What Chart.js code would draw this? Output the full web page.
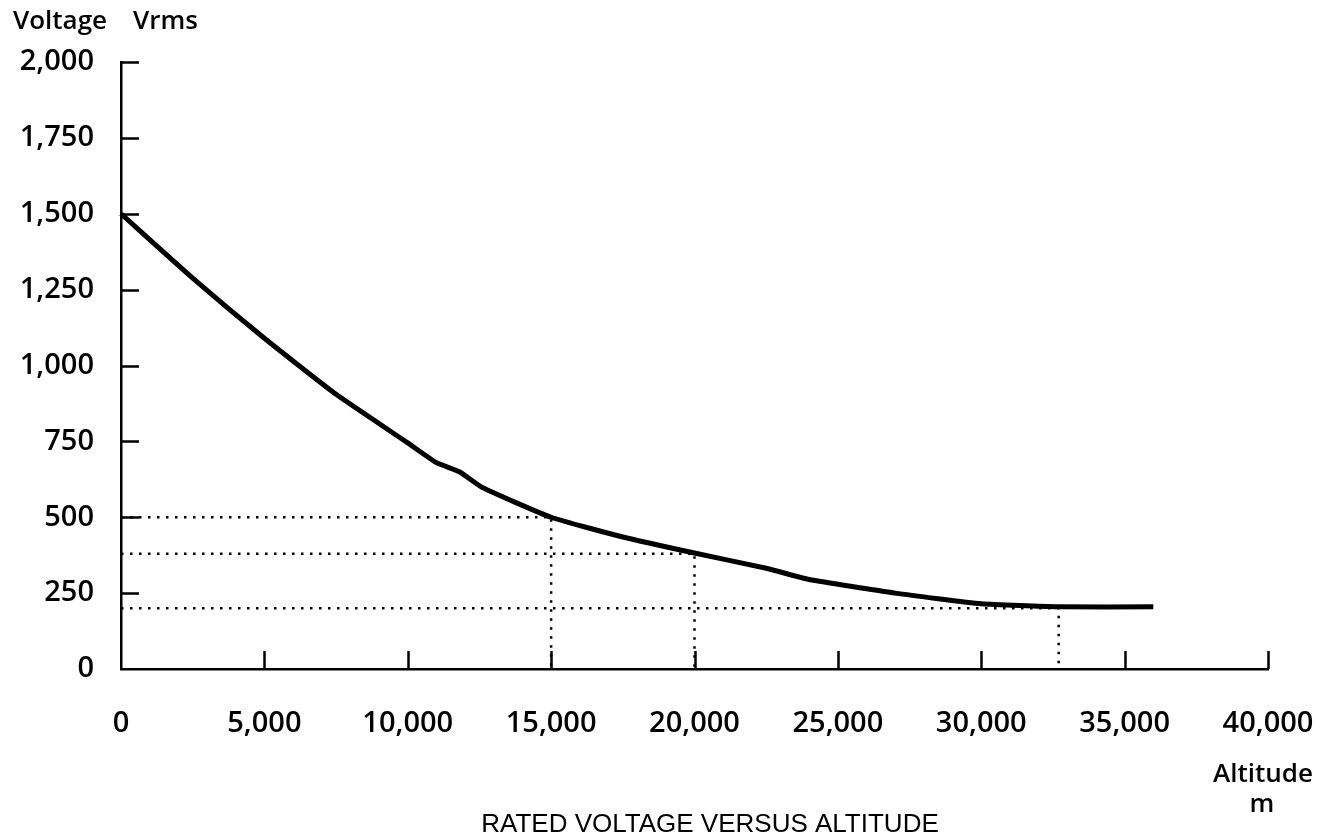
<!DOCTYPE html>
<html>
<head>
<meta charset="utf-8">
<title>Rated voltage versus altitude</title>
<script src="https://cdn.jsdelivr.net/npm/chart.js"></script>
<style>
  html, body { margin: 0; padding: 0; background: #fff; }
  #wrap { width: 1333px; height: 836px; position: relative; }
</style>
</head>
<body>
<div id="wrap"><canvas id="voltChart"></canvas></div>
<script>
// --- data ---
const altitude = [0, 2500, 5000, 7500, 10000, 11000, 11800, 12600, 15000, 17500, 20000, 22500, 24000, 27000, 30000, 32700, 36000];
const voltage  = [1500, 1288, 1090, 905, 745, 680, 650, 598, 500, 435, 382, 332, 295, 250, 215, 205, 205];

// dotted reading lines: voltage level -> altitude where it meets the curve
const refVolts = [500, 380, 200];
const refAlts  = [15000, 20000, 32700];

const xTicks = [0, 5000, 10000, 15000, 20000, 25000, 30000, 35000, 40000];
const yTicks = [0, 250, 500, 750, 1000, 1250, 1500, 1750, 2000];

const INK = '#000000';
const LABEL_FONT = 'Open Sans';
const fmt = v => Number(v).toLocaleString('en-US');

const curve = altitude.map((a, i) => ({ x: a, y: voltage[i] }));

const refSets = refVolts.map((v, i) => ({
    label: 'ref' + v,
    data: [{ x: 0, y: v }, { x: refAlts[i], y: v }, { x: refAlts[i], y: 0 }],
    borderColor: INK,
    borderWidth: 2.5,
    borderDash: [2.5, 6.5],
    borderCapStyle: 'butt',
    pointRadius: 0,
    showLine: true,
    fill: false,
    tension: 0
}));

// tick marks pointing into the plot, as in the drawing
const innerTicks = {
    id: 'innerTicks',
    afterDraw(chart) {
        const { ctx, chartArea, scales } = chart;
        const len = 18;
        ctx.save();
        ctx.strokeStyle = INK;
        ctx.lineWidth = 2.5;
        ctx.beginPath();
        yTicks.forEach(v => {
            if (v === 0) return;
            const y = Math.round(scales.y.getPixelForValue(v)) + 0.5;
            ctx.moveTo(chartArea.left, y);
            ctx.lineTo(chartArea.left + len, y);
        });
        xTicks.forEach(v => {
            if (v === 0) return;
            const x = Math.round(scales.x.getPixelForValue(v)) + 0.5;
            ctx.moveTo(x, chartArea.bottom);
            ctx.lineTo(x, chartArea.bottom - len);
        });
        ctx.stroke();
        ctx.restore();
    }
};

// axis captions and figure title
const captions = {
    id: 'captions',
    afterDraw(chart) {
        const { ctx } = chart;
        ctx.save();
        ctx.fillStyle = INK;
        ctx.textBaseline = 'alphabetic';
        ctx.font = '600 26px "' + LABEL_FONT + '"';
        ctx.textAlign = 'left';
        ctx.fillText('Voltage', 13, 29);
        ctx.fillText('Vrms', 133, 29);
        ctx.textAlign = 'center';
        ctx.fillText('Altitude', 1263, 782);
        ctx.fillText('m', 1262, 812);
        ctx.font = '26px "Liberation Sans"';
        ctx.fillText('RATED VOLTAGE VERSUS ALTITUDE', 710, 832);
        ctx.restore();
    }
};

new Chart(document.getElementById('voltChart').getContext('2d'), {
    type: 'scatter',
    data: {
        datasets: [{
            label: 'Rated voltage',
            data: curve,
            borderColor: INK,
            borderWidth: 5,
            borderCapStyle: 'butt',
            borderJoinStyle: 'round',
            pointRadius: 0,
            showLine: true,
            fill: false,
            tension: 0.15,
            clip: false
        }, ...refSets]
    },
    options: {
        responsive: true,
        maintainAspectRatio: false,
        animation: false,
        devicePixelRatio: 1,
        layout: { padding: { top: 62, right: 65, left: 0, bottom: 0 } },
        plugins: {
            legend: { display: false },
            tooltip: { enabled: false },
            title: { display: false }
        },
        scales: {
            x: {
                type: 'linear',
                min: 0,
                max: 40000,
                afterFit: s => { s.height = 167; s.paddingLeft = 0; s.paddingRight = 0; },
                afterBuildTicks: s => { s.ticks = xTicks.map(v => ({ value: v })); },
                grid: { display: true, drawOnChartArea: false, drawTicks: false },
                border: { display: true, color: INK, width: 2.5 },
                ticks: {
                    color: INK,
                    padding: 37,
                    maxRotation: 0,
                    font: { family: LABEL_FONT, size: 29, weight: '600' },
                    callback: v => fmt(v)
                }
            },
            y: {
                type: 'linear',
                min: 0,
                max: 2000,
                afterFit: s => { s.width = 121; s.paddingTop = 0; s.paddingBottom = 0; },
                afterBuildTicks: s => { s.ticks = yTicks.map(v => ({ value: v })); },
                grid: { display: true, drawOnChartArea: false, drawTicks: false },
                border: { display: true, color: INK, width: 2.5 },
                ticks: {
                    color: INK,
                    padding: 27,
                    font: { family: LABEL_FONT, size: 29, weight: '600' },
                    callback: v => fmt(v)
                }
            }
        }
    },
    plugins: [innerTicks, captions]
});
</script>
</body>
</html>
